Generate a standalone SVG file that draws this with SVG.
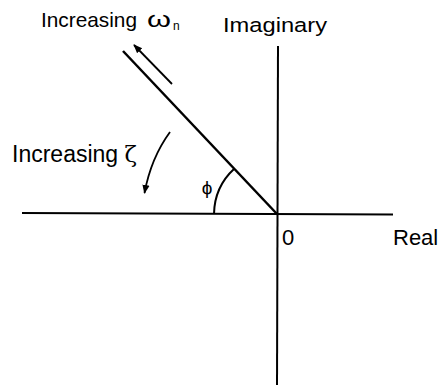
<svg xmlns="http://www.w3.org/2000/svg" width="442" height="385" viewBox="0 0 442 385">
<defs>
<marker id="ah" viewBox="0 0 10 10" refX="9" refY="5" markerWidth="5" markerHeight="5" orient="auto" markerUnits="strokeWidth">
<path d="M0,1 L10,5 L0,9 Z" fill="#000"/>
</marker>
<style>
.t{font-family:"Liberation Sans",Arial,sans-serif;fill:#000}
.ax{stroke:#000;stroke-width:2;fill:none}
.ln{stroke:#000;stroke-width:2.5;fill:none}
.ar{stroke:#000;stroke-width:1.8;fill:none}
</style>
</defs>
<rect width="442" height="385" fill="#fff"/>
<g id="axes">
<line id="real-axis" class="ax" x1="22" y1="213" x2="393" y2="214.5"/>
<line id="imag-axis" class="ax" x1="278" y1="46" x2="277" y2="385"/>
</g>
<g id="connectors">
<line id="pole-line" class="ln" x1="123" y1="51" x2="277" y2="214"/>
<line id="wn-arrow" class="ar" x1="172" y1="84" x2="134" y2="45" marker-end="url(#ah)"/>
<path id="zeta-arrow" class="ar" d="M170,132 Q151,158 144.5,193" marker-end="url(#ah)"/>
<path id="phi-arc" class="ax" d="M214,214 A63,63 0 0 1 234.5,168.5"/>
</g>
<g id="labels">
<g id="lbl-wn">
<text class="t" x="41" y="27" font-size="21" textLength="96" lengthAdjust="spacingAndGlyphs">Increasing</text>
<text class="t" x="147" y="27" font-size="22" textLength="24" lengthAdjust="spacingAndGlyphs">ω</text>
<text class="t" x="173" y="30" font-size="12">n</text>
</g>
<text id="lbl-imag" class="t" x="223" y="32" font-size="20.5" textLength="104" lengthAdjust="spacingAndGlyphs">Imaginary</text>
<text id="lbl-zeta" class="t" x="12" y="162" font-size="23">Increasing <tspan font-family="'DejaVu Serif',serif">ζ</tspan></text>
<text id="lbl-phi" class="t" x="207" y="194" font-size="19" text-anchor="middle">ϕ</text>
<text id="lbl-zero" class="t" x="282" y="245" font-size="22">0</text>
<text id="lbl-real" class="t" x="393" y="245" font-size="22">Real</text>
</g>
</svg>
